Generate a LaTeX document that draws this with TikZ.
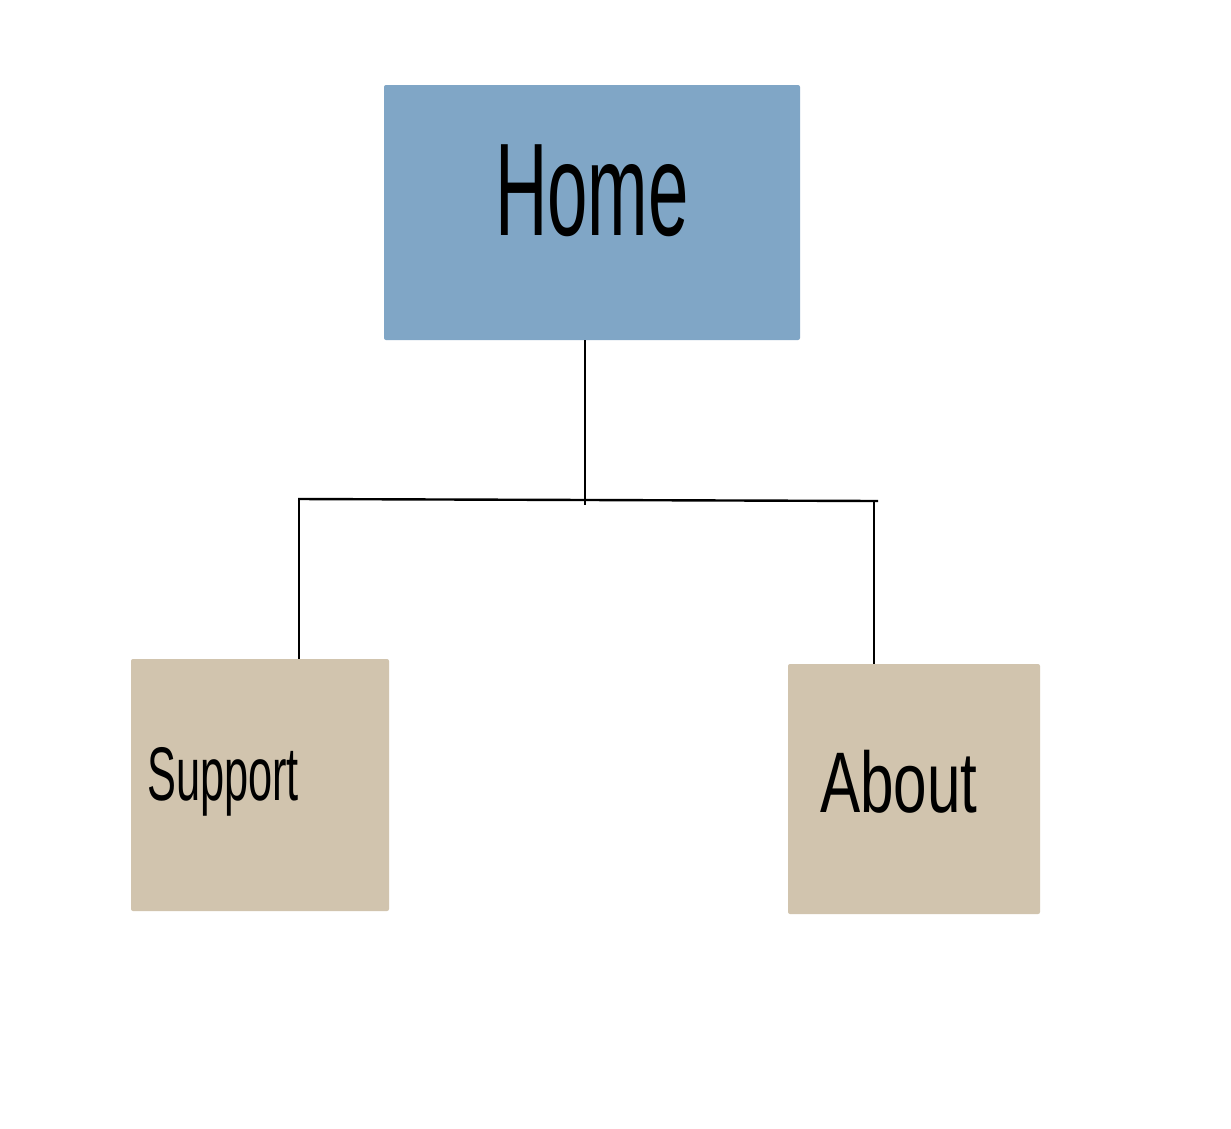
\documentclass[tikz,border=0pt]{standalone}
\usepackage{fontspec}
\setmainfont{Liberation Sans}
\definecolor{homeblue}{HTML}{80A6C6}
\definecolor{pagetan}{HTML}{D1C4AE}
\begin{document}
\begin{tikzpicture}[x=1pt,y=-1pt,
  box/.style={draw=none, rounded corners=2pt, inner sep=0pt},
  conn/.style={draw=black, line width=2.4pt},
  lbl/.style={inner sep=0pt, anchor=base west, text=black}]
\useasboundingbox[fill=white] (0,0) rectangle (1231,1128);
\node[box, fill=homeblue, minimum width=416pt, minimum height=255pt] (home) at (592,212.5) {};
\node[box, fill=pagetan, minimum width=258pt, minimum height=252pt] (support) at (260,785) {};
\node[box, fill=pagetan, minimum width=252pt, minimum height=250pt] (about) at (914,789) {};
\node[lbl] (hometext) at (495,235) {\fontsize{132}{132}\selectfont\scalebox{0.55}[1]{Home}};
\node[lbl] (supporttext) at (147,800) {\fontsize{76}{76}\selectfont\scalebox{0.57}[1]{Support}};
\node[lbl] (abouttext) at (820,812) {\fontsize{86}{86}\selectfont\scalebox{0.7}[1]{About}};
\coordinate (mid) at (585,505);
\coordinate (hl) at (298,499);
\coordinate (hr) at (878,501);
\coordinate (sl) at (299,499.5);
\coordinate (ar) at (874,501);
\draw[conn] (home.south -| mid) -- (mid);
\draw[conn] (hl) -- (hr);
\draw[conn] (sl) -- (sl |- support.north);
\draw[conn] (ar) -- (ar |- about.north);
\end{tikzpicture}
\end{document}
